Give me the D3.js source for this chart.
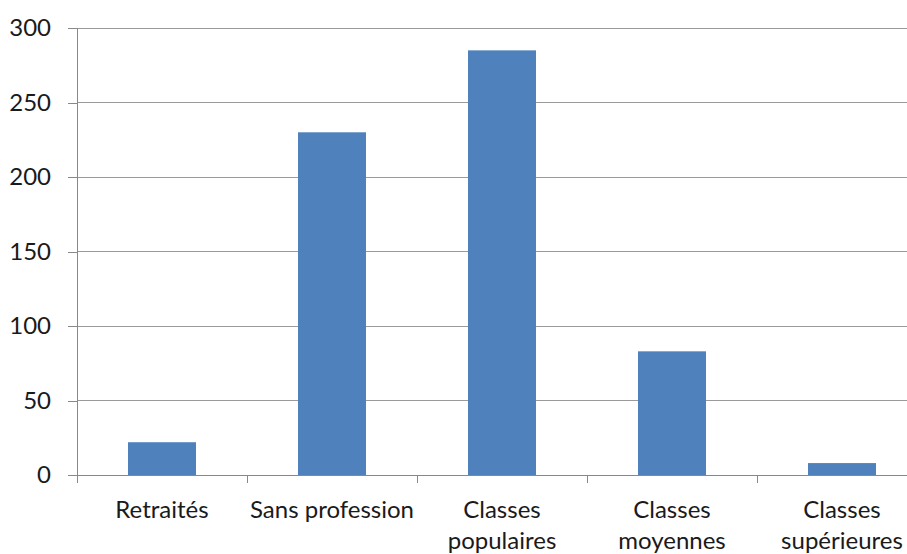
<!DOCTYPE html>
<html>
<head>
<meta charset="utf-8">
<script src="https://cdn.jsdelivr.net/npm/d3@7"></script>
<style>
  html, body { margin: 0; padding: 0; background: #fff; }
  svg { display: block; }
  text { font-family: Lato, "Open Sans", sans-serif; fill: #1a1a1a; }
</style>
</head>
<body>
<svg id="chart" width="907" height="554"></svg>
<script>
const categories = ["Retraités", "Sans profession", "Classes populaires", "Classes moyennes", "Classes supérieures"];
const categoryLines = [["Retraités"], ["Sans profession"], ["Classes", "populaires"], ["Classes", "moyennes"], ["Classes", "supérieures"]];
const values = [22, 230, 285, 83, 8];
const yTicks = [0, 50, 100, 150, 200, 250, 300];

(function () {
const W = 907, H = 554;
const mLeft = 77, mRight = 927, mTop = 28, mBottom = 475;

const svg = d3.select("#chart");

const x = d3.scaleBand().domain(categories).range([mLeft, mRight]).paddingInner(0.6).paddingOuter(0.3);
const y = d3.scaleLinear().domain([0, 300]).range([mBottom, mTop]);
const step = x.step();

// gridlines
svg.append("g").selectAll("line").data(yTicks.filter(d => d > 0)).join("line")
  .attr("x1", mLeft).attr("x2", W)
  .attr("y1", d => y(d)).attr("y2", d => y(d))
  .attr("stroke", "#9a9a9a").attr("stroke-width", 1).attr("shape-rendering", "crispEdges");

// bars
svg.append("g").selectAll("rect").data(values).join("rect")
  .attr("x", (d, i) => x(categories[i]))
  .attr("width", x.bandwidth())
  .attr("y", d => y(d))
  .attr("height", d => y(0) - y(d))
  .attr("fill", "#4F81BD");

// y axis
const yAxis = d3.axisLeft(y).tickValues(yTicks).tickSize(9).tickPadding(17).tickFormat(d3.format("d"));
const gy = svg.append("g").attr("transform", `translate(${mLeft},0)`).call(yAxis);
gy.select(".domain").attr("stroke", "#888").attr("shape-rendering", "crispEdges").attr("d", `M-9,${mTop}H0V${mBottom}H-9`);
gy.selectAll(".tick line").attr("stroke", "#888").attr("shape-rendering", "crispEdges");
gy.selectAll(".tick text").attr("font-size", 24).attr("font-family", "Lato").attr("fill", "#1a1a1a");

// x axis line
svg.append("line").attr("x1", mLeft).attr("x2", W).attr("y1", mBottom).attr("y2", mBottom)
  .attr("stroke", "#888").attr("shape-rendering", "crispEdges");
// x ticks at band boundaries
const boundaries = categories.map(c => x(c) - step * 0.3);
svg.append("g").selectAll("line").data(boundaries).join("line")
  .attr("x1", d => d).attr("x2", d => d).attr("y1", mBottom).attr("y2", mBottom + 8)
  .attr("stroke", "#888").attr("shape-rendering", "crispEdges");

// category labels
const lab = svg.append("g").selectAll("text").data(categoryLines).join("text")
  .attr("text-anchor", "middle")
  .attr("font-size", 24)
  .attr("x", (d, i) => x(categories[i]) + x.bandwidth() / 2)
  .attr("y", 518);
lab.selectAll("tspan").data(d => d).join("tspan")
  .attr("x", function () { return d3.select(this.parentNode).attr("x"); })
  .attr("dy", (d, j) => j === 0 ? 0 : 31)
  .text(d => d);
})();
</script>
</body>
</html>
